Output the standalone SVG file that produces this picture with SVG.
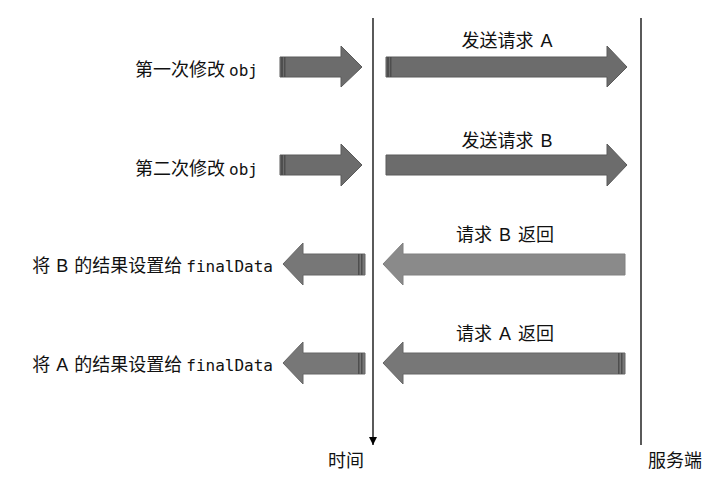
<svg xmlns="http://www.w3.org/2000/svg" width="717" height="486" viewBox="0 0 717 486">
<style>
.t{font-family:"Noto Sans CJK SC","Liberation Sans",sans-serif;font-size:18px;fill:#111}
.m{font-family:"DejaVu Sans Mono",monospace;font-size:16px}
.l{font-family:"Liberation Sans",sans-serif}
.a1{fill:#6c6c6c;stroke:#5a5a5a;stroke-width:1}
.a2{fill:#8a8a8a;stroke:#808080;stroke-width:1}
.a3{fill:#777;stroke:#666;stroke-width:1}
.s{fill:#4e4e4e}
</style>
<defs>
<marker id="ah" markerWidth="8" markerHeight="8" refX="8" refY="4" orient="auto" markerUnits="userSpaceOnUse">
<path d="M0,0 L8,4 L0,8 Z" fill="#000"/>
</marker>
</defs>
<rect width="717" height="486" fill="#fff"/>
<g id="connectors">
<line x1="373" y1="18" x2="373" y2="445" stroke="#000" stroke-width="1.3" marker-end="url(#ah)"/>
<line x1="641" y1="18" x2="641" y2="445" stroke="#000" stroke-width="1.3"/>
</g>
<g id="row1">
<text class="t" x="258" y="75.5" text-anchor="end">第一次修改 <tspan class="m">obj</tspan></text>
<polygon class="a1" points="280,57 341,57 341,46 362,67 341,87 341,77 280,77"/>
<rect class="s" x="281" y="57" width="2" height="20"/><rect class="s" x="284" y="57" width="1.5" height="20"/>
<text class="t" x="507" y="47" text-anchor="middle">发送请求 <tspan class="l" dx="3">A</tspan></text>
<polygon class="a1" points="386,57 607,57 607,46 627,67 607,87 607,77 386,77"/>
<rect class="s" x="387" y="57" width="2" height="20"/><rect class="s" x="390" y="57" width="1.5" height="20"/>
</g>
<g id="row2">
<text class="t" x="258" y="174.5" text-anchor="end">第二次修改 <tspan class="m">obj</tspan></text>
<polygon class="a1" points="280,155 341,155 341,144 362,165 341,186 341,175 280,175"/>
<rect class="s" x="281" y="155" width="2" height="20"/><rect class="s" x="284" y="155" width="1.5" height="20"/>
<text class="t" x="507" y="146.5" text-anchor="middle">发送请求 <tspan class="l" dx="3">B</tspan></text>
<polygon class="a1" points="386,155 607,155 607,144 627,165 607,186 607,175 386,175"/>
</g>
<g id="row3">
<text class="t" x="273" y="272" text-anchor="end">将 <tspan class="l" dx="2">B</tspan><tspan dx="2"> 的结果设置给 </tspan><tspan class="m">finalData</tspan></text>
<polygon class="a3" points="365,254 303,254 303,243 283,264 303,285 303,275 365,275"/>
<rect class="s" x="358" y="254" width="1.5" height="21"/><rect class="s" x="361" y="254" width="1.5" height="21"/>
<text class="t" x="505" y="241" text-anchor="middle">请求 <tspan class="l" dx="3">B</tspan><tspan dx="3"> 返回</tspan></text>
<polygon class="a2" points="625,254 403,254 403,243 383,264 403,285 403,275 625,275"/>
</g>
<g id="row4">
<text class="t" x="273" y="371" text-anchor="end">将 <tspan class="l" dx="2">A</tspan><tspan dx="2"> 的结果设置给 </tspan><tspan class="m">finalData</tspan></text>
<polygon class="a3" points="365,353 303,353 303,342 283,363 303,384 303,374 365,374"/>
<rect class="s" x="358" y="353" width="1.5" height="21"/><rect class="s" x="361" y="353" width="1.5" height="21"/>
<text class="t" x="505" y="339.5" text-anchor="middle">请求 <tspan class="l" dx="3">A</tspan><tspan dx="3"> 返回</tspan></text>
<polygon class="a3" points="625,353 403,353 403,342 383,363 403,384 403,374 625,374"/>
<rect class="s" x="618" y="353" width="1.5" height="21"/><rect class="s" x="621" y="353" width="1.5" height="21"/>
</g>
<g id="labels">
<text class="t" x="328" y="467">时间</text>
<text class="t" x="648" y="467">服务端</text>
</g>
</svg>
